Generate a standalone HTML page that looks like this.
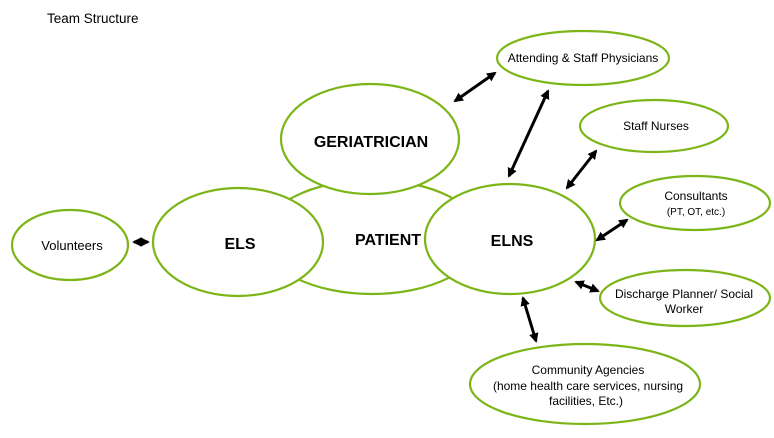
<!DOCTYPE html>
<html><head><style>body{margin:0;background:#fff}svg{display:block}text{font-family:"Liberation Sans",sans-serif;fill:#000;text-anchor:middle}.b{font-weight:bold;font-size:16px}</style></head><body>
<svg width="774" height="438" viewBox="0 0 774 438">
<defs><marker id="a" viewBox="0 0 10 10" refX="8" refY="5" markerWidth="3.2" markerHeight="3.2" orient="auto-start-reverse"><path d="M0,0L10,5L0,10z" fill="#000"/></marker></defs>
<text x="47" y="23" font-size="13.5" style="text-anchor:start">Team Structure</text>
<g fill="#fff" stroke="#7cb518" stroke-width="2.2">
<ellipse cx="372" cy="237" rx="110" ry="57"/>
<ellipse cx="370" cy="139" rx="89" ry="55"/>
<ellipse cx="238" cy="242" rx="85" ry="54"/>
<ellipse cx="510" cy="239" rx="85" ry="55"/>
<ellipse cx="70" cy="245" rx="58" ry="35"/>
<ellipse cx="583" cy="58" rx="86" ry="27"/>
<ellipse cx="654" cy="126" rx="74" ry="26"/>
<ellipse cx="695" cy="203" rx="75" ry="27"/>
<ellipse cx="685" cy="298" rx="85" ry="28"/>
<ellipse cx="585" cy="384" rx="115" ry="40"/>
</g>
<g stroke="#000" stroke-width="3" marker-start="url(#a)" marker-end="url(#a)">
<line x1="134" y1="242" x2="148" y2="242"/>
<line x1="455" y1="101" x2="495" y2="73"/>
<line x1="509" y1="176" x2="548" y2="91"/>
<line x1="567" y1="188" x2="596" y2="151"/>
<line x1="597" y1="240" x2="627" y2="220"/>
<line x1="576" y1="282" x2="598" y2="291"/>
<line x1="523" y1="298" x2="536" y2="341"/>
</g>
<text x="72" y="250" font-size="13">Volunteers</text>
<text x="240" y="249" class="b">ELS</text>
<text x="371" y="147" class="b">GERIATRICIAN</text>
<text x="388" y="245" class="b">PATIENT</text>
<text x="512" y="246" class="b">ELNS</text>
<text x="583" y="62" font-size="12">Attending &amp; Staff Physicians</text>
<text x="656" y="130" font-size="12">Staff Nurses</text>
<text x="696" y="200" font-size="12">Consultants</text>
<text x="696" y="215" font-size="10">(PT, OT, etc.)</text>
<text x="684" y="298" font-size="12">Discharge Planner/ Social</text>
<text x="684" y="313" font-size="12">Worker</text>
<text x="588" y="374" font-size="12">Community Agencies</text>
<text x="588" y="390" font-size="12">(home health care services, nursing</text>
<text x="586" y="405" font-size="12">facilities, Etc.)</text>
</svg>
</body></html>
